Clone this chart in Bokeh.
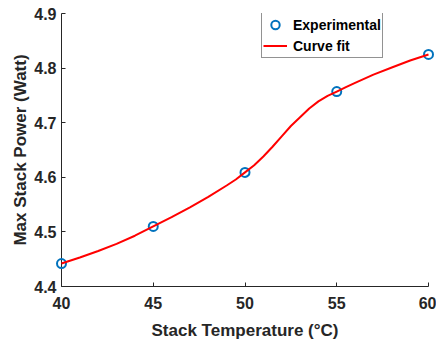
from bokeh.plotting import figure
from bokeh.models import Range1d, FixedTicker, Legend, LegendItem
from bokeh.embed import file_html
from bokeh.resources import INLINE

# Experimental data
temp_exp = [40, 45, 50, 55, 60]
power_exp = [4.442, 4.510, 4.609, 4.757, 4.825]

# Curve fit
temp_fit = [40, 41, 42, 43, 44, 45, 46, 47, 48, 49, 49.5, 50, 50.5, 51, 51.5, 52, 52.5,
            53, 53.5, 54, 54.5, 55, 55.5, 56, 57, 58, 59, 60]
power_fit = [4.442, 4.453, 4.465, 4.478, 4.493, 4.510, 4.527, 4.545, 4.564, 4.585, 4.596,
             4.609, 4.622, 4.638, 4.656, 4.675, 4.694, 4.710, 4.726, 4.739, 4.749,
             4.757, 4.765, 4.773, 4.788, 4.801, 4.814, 4.825]

x_ticks = [40, 45, 50, 55, 60]
y_ticks = [4.4, 4.5, 4.6, 4.7, 4.8, 4.9]

TXT = "#262626"
FONT = "Liberation Sans"

p = figure(width=436, height=342, output_backend="svg", toolbar_location=None,
           x_range=Range1d(40, 60), y_range=Range1d(4.4, 4.9),
           min_border_left=61, min_border_right=8, min_border_top=13, min_border_bottom=55,
           x_axis_label="Stack Temperature (°C)", y_axis_label="Max Stack Power (Watt)")
p.outline_line_color = None
p.xgrid.visible = False
p.ygrid.visible = False

for ax in (p.xaxis[0], p.yaxis[0]):
    ax.axis_line_color = TXT
    ax.major_tick_line_color = TXT
    ax.minor_tick_line_color = None
    ax.major_tick_in = 4
    ax.major_tick_out = 0
    ax.major_label_text_font = FONT
    ax.major_label_text_font_style = "bold"
    ax.major_label_text_font_size = "16px"
    ax.major_label_text_color = TXT
    ax.axis_label_text_font = FONT
    ax.axis_label_text_font_style = "bold"
    ax.axis_label_text_font_size = "17px"
    ax.axis_label_text_color = TXT

p.xaxis[0].ticker = FixedTicker(ticks=x_ticks)
p.yaxis[0].ticker = FixedTicker(ticks=y_ticks)
p.xaxis[0].major_label_standoff = 10
p.xaxis[0].axis_label_standoff = 9
p.yaxis[0].major_label_standoff = 5
p.yaxis[0].axis_label_standoff = 1

r_exp = p.scatter(temp_exp, power_exp, marker="circle", size=9, fill_color=None,
                  line_color="#0072BD", line_width=2)
r_exp.level = "overlay"
r_fit = p.line(temp_fit, power_fit, line_color="#FF0000", line_width=2)
r_fit.level = "overlay"

legend = Legend(items=[LegendItem(label="Experimental", renderers=[r_exp]),
                       LegendItem(label="Curve fit", renderers=[r_fit])],
                location=(200, 228))
legend.label_text_font = FONT
legend.label_text_font_style = "bold"
legend.label_text_font_size = "14px"
legend.label_text_color = "#000000"
legend.border_line_color = TXT
legend.border_line_width = 1
legend.background_fill_alpha = 1
legend.glyph_width = 24
legend.glyph_height = 21
legend.label_height = 16
legend.label_standoff = 6
legend.padding = 1
legend.spacing = 0
legend.margin = 0
p.add_layout(legend)

open("out.html", "w").write(file_html(p, INLINE))
